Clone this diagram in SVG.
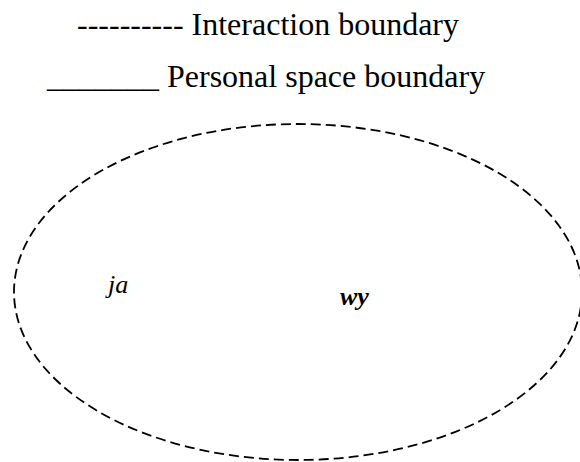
<svg xmlns="http://www.w3.org/2000/svg" width="580" height="462" viewBox="0 0 580 462">
<style>
text{font-family:"Liberation Serif","Times New Roman",serif;fill:#000}
.leg{font-size:32px}
.lbl{font-size:26px;font-style:italic}
.bnd{fill:none;stroke:#000;stroke-width:1.8;stroke-dasharray:10,5}
</style>
<rect width="580" height="462" fill="#fff"/>
<g id="legend">
<text class="leg" x="77" y="35" font-family="Liberation Serif, serif">---------- Interaction boundary</text>
<text class="leg" x="47" y="87" font-family="Liberation Serif, serif">_______ Personal space boundary</text>
</g>
<g id="connectors"></g>
<g id="interaction-boundary">
<ellipse class="bnd" cx="298" cy="292" rx="284" ry="168"/>
</g>
<g id="node-ja"><text class="lbl" x="108" y="293" font-family="Liberation Serif, serif">ja</text></g>
<g id="node-wy"><text class="lbl" x="340" y="305" font-weight="bold" font-family="Liberation Serif, serif">wy</text></g>
</svg>
